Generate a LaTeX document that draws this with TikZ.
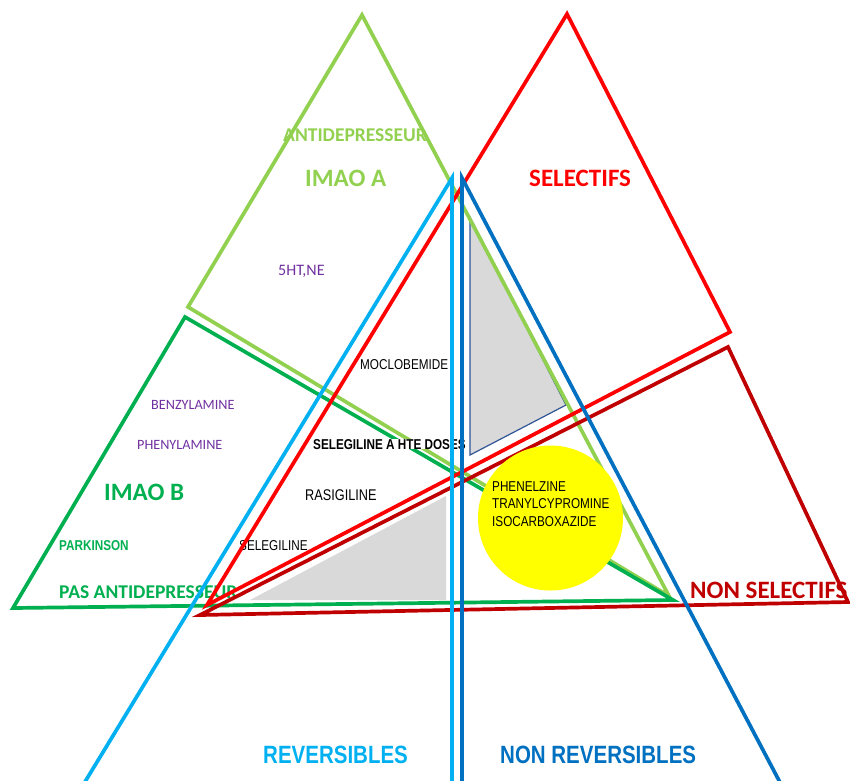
\documentclass[tikz,border=0pt]{standalone}
\usepackage{fontspec}
\newfontfamily\calfam{Carlito}
\newfontfamily\narrowfam[FakeStretch=0.82]{Liberation Sans}
\definecolor{lgreen}{HTML}{92D050}
\definecolor{dgreen}{HTML}{00B050}
\definecolor{selred}{HTML}{FF0000}
\definecolor{darkred}{HTML}{C00000}
\definecolor{lblue}{HTML}{00B0F0}
\definecolor{dblue}{HTML}{0070C0}
\definecolor{purp}{HTML}{7030A0}
\definecolor{grayfill}{HTML}{D9D9D9}
\definecolor{steel}{HTML}{2F5597}
\definecolor{sun}{HTML}{FFFF00}
\tikzset{
  tri/.style={line width=3.7pt, line join=miter},
  lbl/.style={inner sep=0pt, anchor=base west},
  bigtitle/.style={lbl, font=\calfam\bfseries\fontsize{25}{30}\selectfont},
  midtitle/.style={lbl, font=\calfam\bfseries\fontsize{19.5}{23}\selectfont},
  amine/.style={lbl, text=purp, font=\calfam\fontsize{14.2}{17}\selectfont},
  drug/.style={lbl, font=\narrowfam\fontsize{14.3}{17.3}\selectfont},
  boldnarrow/.style={lbl, font=\narrowfam\bfseries\fontsize{14.3}{17}\selectfont},
  axis/.style={lbl, font=\narrowfam\bfseries\fontsize{25}{30}\selectfont}
}
\begin{document}
\begin{tikzpicture}[x=1pt,y=-1pt]
\useasboundingbox (0,0) rectangle (850,780);
\begin{scope}
\clip (0,0) rectangle (850,780);

% vertices of the six triangles
\coordinate (aTop) at (362,15);   \coordinate (aLeft) at (188,307);  \coordinate (aRight) at (669,596);
\coordinate (bTop) at (185,317);  \coordinate (bLeft) at (13,608);   \coordinate (bRight) at (673,600);
\coordinate (sTop) at (567,14);   \coordinate (sRight) at (730,332); \coordinate (sLeft) at (207,605);
\coordinate (nTop) at (728,347);  \coordinate (nRight) at (848,602); \coordinate (nLeft) at (200,615);
\coordinate (rTop) at (452,178);  \coordinate (rLeft) at (80,790);   \coordinate (rBot) at (452,790);
\coordinate (irTop) at (462,178); \coordinate (irBot) at (462,790);  \coordinate (irRight) at (784,790);

% shaded zones
\fill[grayfill] (250,600) -- (446,496) -- (446,600) -- cycle;
\filldraw[fill=grayfill, draw=steel, line width=1.2pt] (470,217) -- (470,455) -- (566,405) -- cycle;

% labels inside the zones
\node[midtitle, text=lgreen] (antidep) at (283,141.5) {ANTIDEPRESSEUR};
\node[bigtitle, text=lgreen] (imaoa) at (305,186) {IMAO A};
\node[lbl, text=purp, font=\calfam\fontsize{16}{19}\selectfont] (sht) at (278,275) {5HT,NE};
\node[bigtitle, text=selred] (selectifs) at (529,186) {SELECTIFS};
\node[drug] (moclo) at (360,369) {MOCLOBEMIDE};
\node[lbl, font=\narrowfam\fontsize{15.5}{18}\selectfont] (rasi) at (305,500) {RASIGILINE};
\node[drug] (selegi) at (239,550) {SELEGILINE};
\node[amine] (benzyl) at (151,409) {BENZYLAMINE};
\node[amine] (phenyl) at (137,449) {PHENYLAMINE};
\node[bigtitle, text=dgreen] (imaob) at (104,500) {IMAO B};
\node[boldnarrow, text=dgreen] (parkinson) at (59,550.5) {PARKINSON};
\node[midtitle, text=dgreen] (pasanti) at (59,598.7) {PAS ANTIDEPRESSEUR};
\node[bigtitle, text=darkred] (nonsel) at (690,598.3) {NON SELECTIFS};
\node[axis, text=lblue] (rev) at (263,763.3) {REVERSIBLES};
\node[axis, text=dblue] (nonrev) at (500,763.3) {NON REVERSIBLES};

% triangle outlines
\draw[tri, lgreen] (aTop) -- (aLeft) -- (aRight) -- cycle;
\draw[tri, dgreen] (bTop) -- (bLeft) -- (bRight) -- cycle;
\node[boldnarrow, fill=white] (seleghd) at (313,449) {SELEGILINE A HTE DOSES};
\draw[tri, darkred] (nTop) -- (nRight) -- (nLeft) -- cycle;
\draw[tri, selred] (sTop) -- (sRight) -- (sLeft) -- cycle;
\draw[tri, lblue] (rLeft) -- (rTop) -- (rBot);
\draw[tri, dblue] (irBot) -- (irTop) -- (irRight);

% non-selective irreversible inhibitors
\fill[sun] (550.5,518) circle (72.5);
\node[drug, align=left, anchor=north west] (irrev) at (492,481.5)
  {PHENELZINE\\TRANYLCYPROMINE\\ISOCARBOXAZIDE};
\end{scope}
\end{tikzpicture}
\end{document}
